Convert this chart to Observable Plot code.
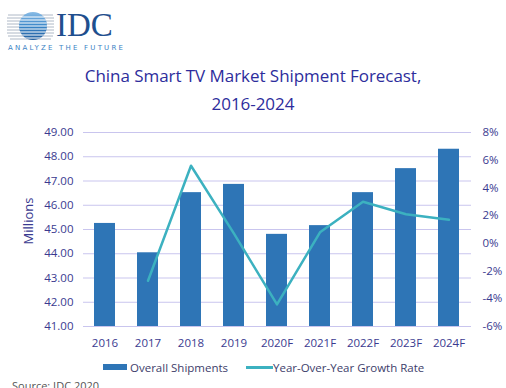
<!DOCTYPE html>
<html><head><meta charset="utf-8">
<script src="https://cdn.jsdelivr.net/npm/d3@7"></script>
<script src="https://cdn.jsdelivr.net/npm/@observablehq/plot@0.6"></script>
<style>
html,body{margin:0;padding:0;}
body{width:506px;height:388px;overflow:hidden;background:#fff;font-family:"Open Sans",sans-serif;position:relative;}
#logo{position:absolute;left:0;top:0;}
.title{position:absolute;left:0;width:506px;text-align:center;color:#2d2d9c;font-size:17px;letter-spacing:-0.05px;white-space:nowrap;}
#chart{position:absolute;left:0;top:118px;}
#ylab{position:absolute;left:28px;top:221px;transform:translate(-50%,-50%) rotate(-90deg);color:#3a3a90;font-size:13px;white-space:nowrap;}
#legend{position:absolute;top:358px;left:0;width:506px;height:20px;font-size:11.5px;color:#3d3d6a;}
#legend .sw{position:absolute;}
#legend .tx{position:absolute;top:0;line-height:19px;white-space:nowrap;}
#source{position:absolute;left:12px;top:378px;font-size:11px;color:#555;white-space:nowrap;}
</style></head><body>
<div id="logo">
<svg width="130" height="56">
  <defs>
    <clipPath id="gc"><circle cx="33" cy="26" r="14"/></clipPath>
    <linearGradient id="gg" x1="0" y1="0" x2="0" y2="1">
      <stop offset="0" stop-color="#8fc0e8"/><stop offset="0.5" stop-color="#3a86c8"/><stop offset="1" stop-color="#1f5a9a"/>
    </linearGradient>
  </defs>
  <g stroke="#9aa6b8" stroke-width="0.8">
    <line x1="8" y1="15" x2="53" y2="15"/><line x1="7" y1="18" x2="54" y2="18"/><line x1="7" y1="21" x2="54" y2="21"/>
    <line x1="7" y1="24" x2="54" y2="24"/><line x1="7" y1="27" x2="54" y2="27"/><line x1="7" y1="30" x2="54" y2="30"/>
    <line x1="7" y1="33" x2="54" y2="33"/><line x1="8" y1="36" x2="53" y2="36"/><line x1="10" y1="39" x2="51" y2="39"/>
  </g>
  <g clip-path="url(#gc)">
    <rect x="18" y="11" width="30" height="30" fill="url(#gg)"/>
    <g stroke="#fff" stroke-width="1.1">
      <line x1="15" y1="17" x2="52" y2="17"/><line x1="15" y1="20" x2="52" y2="20"/><line x1="15" y1="23" x2="52" y2="23"/>
      <line x1="15" y1="26" x2="52" y2="26"/><line x1="15" y1="29" x2="52" y2="29"/><line x1="15" y1="32" x2="52" y2="32"/>
      <line x1="15" y1="35" x2="52" y2="35"/><line x1="15" y1="38" x2="52" y2="38"/>
    </g>
  </g>
  <text x="56" y="36" font-family="Liberation Serif, DejaVu Serif, serif" font-size="33" fill="#1f4f8e">IDC</text>
  <text x="8" y="49.5" font-family="DejaVu Sans, sans-serif" font-size="7" letter-spacing="2.2" fill="#3a82c4">ANALYZE THE FUTURE</text>
</svg>
</div>
<div class="title" style="top:64px;">China Smart TV Market Shipment Forecast,</div>
<div class="title" style="top:92px;">2016-2024</div>
<div id="ylab">Millions</div>
<div id="chart"></div>
<div id="legend">
  <div class="sw" style="left:103px;top:6px;width:24px;height:6px;background:#2e75b6;"></div>
  <div class="tx" style="left:130px;">Overall Shipments</div>
  <div class="sw" style="left:246px;top:8px;width:27px;height:2.5px;background:#3cb1c0;"></div>
  <div class="tx" style="left:273px;">Year-Over-Year Growth Rate</div>
</div>
<div id="source">Source: IDC 2020</div>
<script>
const years = ["2016","2017","2018","2019","2020F","2021F","2022F","2023F","2024F"];
const shipments = [45.25, 44.04, 46.52, 46.86, 44.80, 45.16, 46.52, 47.51, 48.31];
const growth = [null, -2.7, 5.6, 0.7, -4.4, 0.8, 3.0, 2.1, 1.7];
const leftTicks = [41, 42, 43, 44, 45, 46, 47, 48, 49];
const rightTicks = [-6, -4, -2, 0, 2, 4, 6, 8];

const leftMin = 41, leftMax = 49, rightMin = -6, rightMax = 8;
const toLeft = g => leftMin + (g - rightMin) * (leftMax - leftMin) / (rightMax - rightMin);
const toRight = v => (v - leftMin) * (rightMax - rightMin) / (leftMax - leftMin) + rightMin;

const barData = years.map((year, i) => ({year, ship: shipments[i]}));
const lineData = years.map((year, i) => ({year, g: growth[i]})).filter(d => d.g != null);

const plot = Plot.plot({
  width: 506, height: 240,
  marginTop: 14, marginBottom: 32, marginLeft: 83, marginRight: 35,
  x: {domain: years, paddingInner: 0.51, paddingOuter: 0.255, label: null},
  y: {domain: [leftMin, leftMax], label: null},
  style: {fontFamily: "Open Sans", fontSize: "11.5px", color: "#3a3a90", background: "transparent", overflow: "visible"},
  marks: [
    Plot.gridY(leftTicks, {stroke: "#c9c5ee", strokeOpacity: 1, strokeWidth: 1}),
    Plot.barY(barData, {x: "year", y1: leftMin, y2: "ship", fill: "#2e75b6"}),
    Plot.lineY(lineData, {x: "year", y: d => toLeft(d.g), stroke: "#3cb1c0", strokeWidth: 2.5}),
    Plot.axisY(leftTicks, {anchor: "left", tickSize: 0, tickPadding: 10, tickFormat: d => d.toFixed(2), label: null}),
    Plot.axisY(rightTicks.map(toLeft), {anchor: "right", tickSize: 0, tickPadding: 11, tickFormat: v => Math.round(toRight(v)) + "%", label: null}),
    Plot.axisX({tickSize: 0, tickPadding: 12, label: null})
  ]
});
document.getElementById("chart").appendChild(plot);
</script>
</body></html>
